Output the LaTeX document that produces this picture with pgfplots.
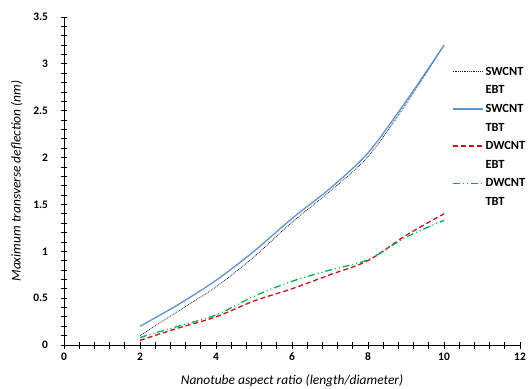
\documentclass[border=0pt]{standalone}
\usepackage{pgfplots}
\pgfplotsset{compat=1.18}
\usepackage{fontspec}
\setmainfont{Carlito}
\definecolor{cblue}{RGB}{95,145,215}
\definecolor{cred}{RGB}{200,20,20}
\definecolor{cgreen}{RGB}{0,176,80}
\begin{document}
\begin{tikzpicture}
\begin{axis}[
  width=456bp, height=328bp, scale only axis,
  axis lines=left, axis line style={-, thick},
  xmin=0, xmax=12, ymin=0, ymax=3.5,
  xtick={0,2,...,12}, ytick={0,0.5,...,3.5},
  minor x tick num=4, minor y tick num=4,
  tick align=center, major tick length=7bp, minor tick length=7bp,
  tick style={thick, black},
  /pgf/number format/assume math mode=true,
  ticklabel style={font=\bfseries\fontsize{11.5}{12}\selectfont},
  yticklabel style={/pgf/number format/fixed, xshift=-9bp},
  xticklabel style={yshift=-1bp},
  xlabel={Nanotube aspect ratio (length/diameter)},
  ylabel={Maximum transverse deflection (nm)},
  label style={font=\itshape\fontsize{13.5}{15}\selectfont},
  xlabel style={yshift=-7bp},
  ylabel style={yshift=4bp},
  legend style={at={(0.851,0.858)}, anchor=north west, draw=none, fill=none,
    font=\bfseries\fontsize{12.5}{13}\selectfont, row sep=2.6bp, inner sep=0pt,
    nodes={text height=9.5bp, text depth=2.5bp}},
  legend cell align=left,
  legend image code/.code={\draw[#1] (0bp,0bp) -- (30bp,0bp);},
]
\addplot[black!90, densely dotted, thick, smooth] coordinates {
(2,0.10) (3,0.36) (4,0.62) (5,0.94) (6,1.31) (7,1.64) (8,2.01) (9,2.57) (10,3.2)};
\addlegendentry{SWCNT}
\addlegendimage{empty legend}\addlegendentry{EBT}
\addplot[cblue, line width=1.3pt, smooth] coordinates {
(2,0.20) (3,0.43) (4,0.69) (5,1.00) (6,1.35) (7,1.67) (8,2.05) (9,2.6) (10,3.2)};
\addlegendentry{SWCNT}
\addlegendimage{empty legend}\addlegendentry{TBT}
\addplot[cred, line width=1.3pt, dash pattern=on 5pt off 3pt, smooth] coordinates {
(2,0.05) (3,0.18) (4,0.30) (5,0.47) (6,0.60) (7,0.75) (8,0.90) (9,1.17) (10,1.40)};
\addlegendentry{DWCNT}
\addlegendimage{empty legend}\addlegendentry{EBT}
\addplot[cgreen, line width=1.3pt, dash pattern=on 7pt off 3pt on 1pt off 3pt on 1pt off 3pt, smooth] coordinates {
(2,0.08) (3,0.20) (4,0.32) (5,0.52) (6,0.68) (7,0.80) (8,0.91) (9,1.15) (10,1.33)};
\addlegendentry{DWCNT}
\addlegendimage{empty legend}\addlegendentry{TBT}
\end{axis}
\pgfresetboundingbox
\path (-64bp,-44bp) rectangle (468bp,345bp);
\end{tikzpicture}
\end{document}
